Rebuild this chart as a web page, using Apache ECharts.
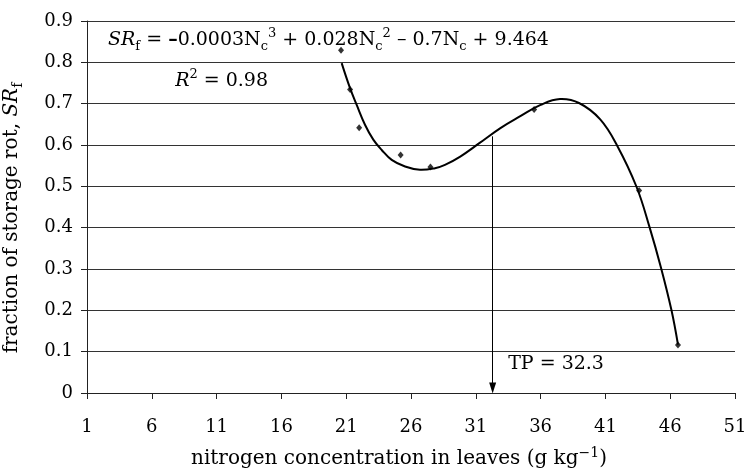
<!DOCTYPE html>
<html><head><meta charset="utf-8">
<script src="https://cdn.jsdelivr.net/npm/echarts@6/dist/echarts.min.js"></script>
<style>html,body{margin:0;padding:0;background:#fff}#c{width:745px;height:470px}</style>
</head><body><div id="c"></div>
<script>
// observed data points (N concentration, fraction of storage rot)
const pointX = [20.6, 21.3, 22.0, 25.2, 27.5, 35.5, 43.6, 46.6];
const pointY = [0.829, 0.734, 0.642, 0.576, 0.547, 0.686, 0.490, 0.116];
// fitted trend curve
const curveX = [20.65, 21.29, 21.81, 22.45, 23.09, 23.74, 24.51, 25.54, 26.69, 27.85, 28.62, 29.8, 31.3, 32.9, 34.4, 36.0, 37.5, 39.0, 40.6, 41.9, 43.4, 44.4, 45.3, 46.1, 46.6];
const curveY = [0.798, 0.738, 0.697, 0.649, 0.613, 0.588, 0.564, 0.548, 0.540, 0.544, 0.552, 0.572, 0.605, 0.641, 0.669, 0.697, 0.711, 0.701, 0.662, 0.599, 0.499, 0.402, 0.302, 0.200, 0.117];
// turning point arrow
const tpX = [32.3, 32.3];
const tpY = [0.621, 0.012];
// annotation anchors (data coords)
const eqAnchor = [2.62, 0.854];
const r2Anchor = [7.8, 0.755];
const tpAnchor = [33.5, 0.061];

const FONT = 'DejaVu Serif';
const TICK_FS = 18;
const FS = 19;
const chart = echarts.init(document.getElementById('c'));
function richSet(fs) {
  return {
    n: {fontFamily: FONT, fontSize: fs, color: '#000', lineHeight: 26, verticalAlign: 'middle'},
    it: {fontFamily: FONT, fontSize: fs, fontStyle: 'italic', color: '#000', lineHeight: 26, verticalAlign: 'middle'},
    b: {fontFamily: FONT, fontSize: fs, fontWeight: 'bold', color: '#000', lineHeight: 26, verticalAlign: 'middle'},
    sub: {fontFamily: FONT, fontSize: Math.round(fs * 0.68), color: '#000', lineHeight: 14, verticalAlign: 'bottom'},
    sup: {fontFamily: FONT, fontSize: Math.round(fs * 0.7), color: '#000', lineHeight: 14, verticalAlign: 'top'}
  };
}
const option = {
  animation: false,
  grid: {left: 87, right: 10, top: 21, bottom: 77, outerBoundsMode: 'none', containLabel: false},
  xAxis: {
    type: 'value', min: 1, max: 51, interval: 5,
    axisLine: {show: true, lineStyle: {color: '#222', width: 1}},
    axisTick: {show: true, length: 6, lineStyle: {color: '#222'}},
    axisLabel: {fontFamily: FONT, fontSize: TICK_FS, color: '#000', margin: 25},
    splitLine: {show: false},
    name: '{n|nitrogen concentration in leaves (g kg}{sup|−1}{n|)}',
    nameLocation: 'middle', nameGap: 53,
    nameTextStyle: {rich: richSet(20), padding: [0, 24, 0, 0]}
  },
  yAxis: {
    type: 'value', min: 0, max: 0.9, interval: 0.1,
    axisLine: {show: true, lineStyle: {color: '#222', width: 1}},
    axisTick: {show: true, length: 6, lineStyle: {color: '#222'}},
    axisLabel: {fontFamily: FONT, fontSize: TICK_FS, color: '#000', margin: 14,
      formatter: v => v === 0 ? '0' : v.toFixed(1)},
    splitLine: {show: true, lineStyle: {color: '#333', width: 1}},
    name: '{n|fraction of storage rot, }{it|SR}{sub|f}',
    nameLocation: 'middle', nameGap: 62, nameRotate: 90,
    nameTextStyle: {rich: richSet(20), padding: [0, 22, 0, 0]}
  },
  series: [
    {
      type: 'custom', silent: true,
      data: curveX.map((x, i) => [x, curveY[i]]),
      encode: {x: 0, y: 1},
      renderItem: function (params, api) {
        if (params.dataIndex !== 0) return null;
        const pts = curveX.map((x, i) => api.coord([x, curveY[i]]));
        return {
          type: 'polyline', silent: true,
          shape: {points: pts, smooth: 0.4},
          style: {stroke: '#000', lineWidth: 2, fill: null}
        };
      }
    },
    {
      type: 'scatter', symbol: 'diamond', symbolSize: [6, 7],
      data: pointX.map((x, i) => [x, pointY[i]]),
      itemStyle: {color: '#000'},
      markLine: {
        silent: true, symbol: ['none', 'triangle'], symbolSize: [7, 11],
        label: {show: false},
        lineStyle: {color: '#000', width: 1, type: 'solid'},
        data: [[{coord: [tpX[0], tpY[0]]}, {coord: [tpX[1], tpY[1]]}]]
      }
    }
  ]
};
chart.setOption(option);
const pe = chart.convertToPixel({gridIndex: 0}, eqAnchor);
const pr = chart.convertToPixel({gridIndex: 0}, r2Anchor);
const pt = chart.convertToPixel({gridIndex: 0}, tpAnchor);
chart.setOption({
  graphic: [
    {type: 'text', left: pe[0], top: pe[1] - 13, style: {
      text: '{it|SR}{sub|f}{n| = }{b|–}{n|0.0003N}{sub|c}{sup|3}{n| + 0.028N}{sub|c}{sup|2}{n| – 0.7N}{sub|c}{n| + 9.464}',
      rich: richSet(FS)
    }},
    {type: 'text', left: pr[0], top: pr[1] - 13, style: {
      text: '{it|R}{sup|2}{n| = 0.98}', rich: richSet(FS)
    }},
    {type: 'text', left: pt[0], top: pt[1] - 13, style: {
      text: '{n|TP = 32.3}', rich: richSet(FS)
    }}
  ]
});
</script>
</body></html>
